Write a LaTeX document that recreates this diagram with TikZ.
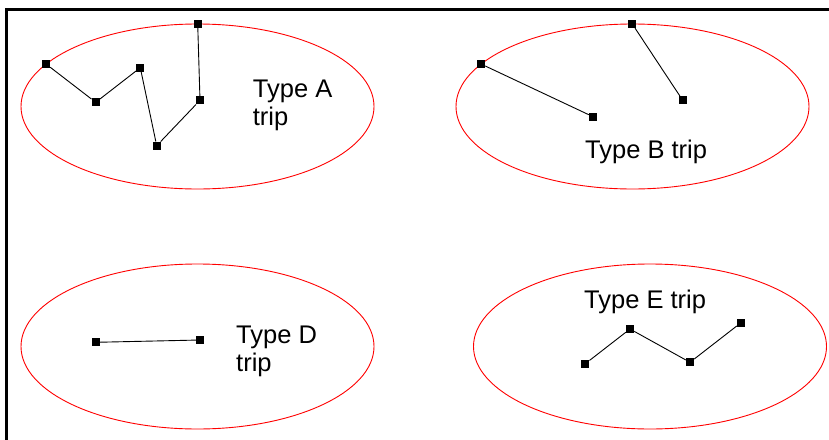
\documentclass[tikz,border=0pt]{standalone}
\usepackage{fontspec}
\setmainfont{Liberation Sans}
\begin{document}
\begin{tikzpicture}
[x=1pt,y=-1pt,
  stopdecorate/.style={shape=rectangle,minimum size=8pt,inner sep=0pt,fill=black},%
  linedecorate/.style={-,line width=0.9pt},%
  zonedecorate/.style={draw=red,line width=0.9pt},%
  labeldecorate/.style={anchor=north west,inner sep=0pt,align=left,
    font=\fontsize{25.5}{28}\selectfont}]
\useasboundingbox (0,0) rectangle (829,439);
\clip (0,0) rectangle (829,439);
%% frame
\draw[line width=3pt] (6.5,445) -- (6.5,9.5) -- (840,9.5);
%% zones
\foreach \cx/\cy in {197.5/106.5, 632.5/106.5, 197.5/346.5, 650/346.5}
  \draw[zonedecorate] (\cx,\cy) ellipse (176.5 and 82.5);
%% stops
\foreach \nodename/\x/\y in {
  a1/46/64, a2/95.7/102.3, a3/140.3/67.7, a4/156.7/145.7, a5/200/100.3,
  a6/197.7/24,
  b1/481/64, b2/593/116.7, b3/632.3/24, b4/682.7/100.3,
  d1/95.7/342.3, d2/200/340,
  e1/585.3/363.7, e2/630/329, e3/690/362.3, e4/741/322.7}
{
  \node (\nodename) at (\x,\y) [stopdecorate] {};
}
%% trips
\path
\foreach \startnode/\endnode in {a1/a2, a2/a3, a3/a4, a4/a5, a5/a6,
  b1/b2, b3/b4, d1/d2, e1/e2, e2/e3, e3/e4} {
  (\startnode) edge[linedecorate] (\endnode)
};
%% labels
\node (typeA) at (252.7,80) [labeldecorate] {Type A\\trip};
\node (typeB) at (585,140) [labeldecorate] {Type B trip};
\node (typeD) at (236,326) [labeldecorate] {Type D\\trip};
\node (typeE) at (584,290) [labeldecorate] {Type E trip};
\end{tikzpicture}
\end{document}
